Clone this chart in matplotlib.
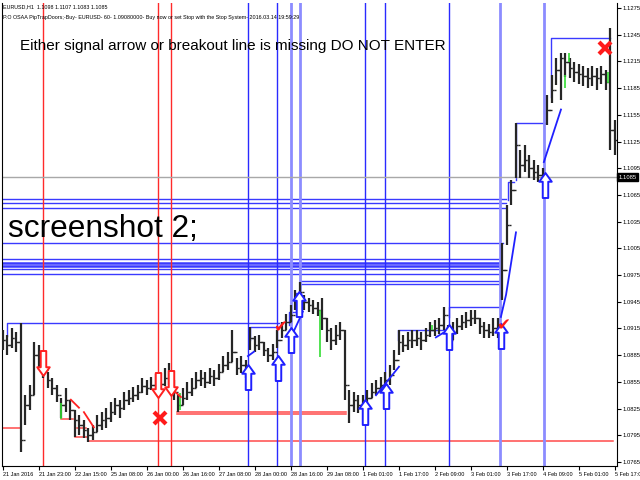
import numpy as np
import matplotlib
matplotlib.use("Agg")
import matplotlib.pyplot as plt
from matplotlib.path import Path

SANS = ['Liberation Sans', 'DejaVu Sans']

# EURUSD H1, one bar per 2 hours (hour offset from the first bar)
hours = np.arange(0, 274, 2)
close = [1.0902, 1.0896, 1.0904, 1.0900, 1.0790, 1.0829, 1.0840, 1.0885, 1.0880, 1.0868,
         1.0857, 1.0848, 1.0840, 1.0829, 1.0835, 1.0823, 1.0812, 1.0807, 1.0801, 1.0795,
         1.0799, 1.0807, 1.0812, 1.0814, 1.0821, 1.0829, 1.0826, 1.0835, 1.0837, 1.0840,
         1.0844, 1.0850, 1.0848, 1.0852, 1.0855, 1.0853, 1.0859, 1.0863, 1.0844, 1.0829,
         1.0837, 1.0844, 1.0848, 1.0857, 1.0859, 1.0855, 1.0862, 1.0859, 1.0866, 1.0874,
         1.0877, 1.0889, 1.0871, 1.0874, 1.0871, 1.0904, 1.0896, 1.0900, 1.0891, 1.0885,
         1.0889, 1.0902, 1.0913, 1.0922, 1.0930, 1.0947, 1.0956, 1.0945, 1.0941, 1.0938,
         1.0936, 1.0927, 1.0913, 1.0902, 1.0908, 1.0913, 1.0852, 1.0829, 1.0835, 1.0829,
         1.0831, 1.0837, 1.0844, 1.0848, 1.0852, 1.0857, 1.0863, 1.0880, 1.0900, 1.0896,
         1.0902, 1.0902, 1.0904, 1.0902, 1.0908, 1.0913, 1.0916, 1.0919, 1.0930, 1.0902,
         1.0911, 1.0918, 1.0922, 1.0925, 1.0927, 1.0927, 1.0918, 1.0913, 1.0911, 1.0916,
         1.0913, 1.0981, 1.1031, 1.1071, 1.1121, 1.1099, 1.1104, 1.1095, 1.1091, 1.1087,
         1.1084, 1.1161, 1.1183, 1.1205, 1.1219, 1.1214, 1.1208, 1.1203, 1.1201, 1.1199,
         1.1196, 1.1199, 1.1196, 1.1201, 1.1192, 1.1138, 1.1127]
high = [1.0913, 1.0908, 1.0916, 1.0911, 1.0921, 1.0840, 1.0852, 1.0900, 1.0896, 1.0880,
        1.0866, 1.0859, 1.0852, 1.0837, 1.0848, 1.0835, 1.0823, 1.0818, 1.0812, 1.0803,
        1.0807, 1.0818, 1.0821, 1.0826, 1.0832, 1.0837, 1.0835, 1.0844, 1.0846, 1.0849,
        1.0852, 1.0859, 1.0857, 1.0860, 1.0864, 1.0862, 1.0871, 1.0876, 1.0857, 1.0840,
        1.0848, 1.0855, 1.0859, 1.0866, 1.0868, 1.0866, 1.0871, 1.0868, 1.0875, 1.0884,
        1.0889, 1.0913, 1.0882, 1.0884, 1.0880, 1.0917, 1.0907, 1.0908, 1.0900, 1.0893,
        1.0898, 1.0913, 1.0922, 1.0931, 1.0941, 1.0958, 1.0967, 1.0953, 1.0949, 1.0947,
        1.0945, 1.0949, 1.0927, 1.0916, 1.0919, 1.0922, 1.0913, 1.0846, 1.0844, 1.0840,
        1.0840, 1.0846, 1.0854, 1.0857, 1.0860, 1.0866, 1.0874, 1.0891, 1.0913, 1.0908,
        1.0911, 1.0913, 1.0913, 1.0911, 1.0916, 1.0922, 1.0925, 1.0927, 1.0939, 1.0919,
        1.0922, 1.0927, 1.0930, 1.0934, 1.0936, 1.0936, 1.0927, 1.0922, 1.0920, 1.0927,
        1.0927, 1.1011, 1.1054, 1.1082, 1.1146, 1.1116, 1.1121, 1.1110, 1.1104, 1.1099,
        1.1095, 1.1177, 1.1200, 1.1219, 1.1225, 1.1225, 1.1219, 1.1214, 1.1212, 1.1210,
        1.1208, 1.1210, 1.1208, 1.1210, 1.1205, 1.1253, 1.1149]
low = [1.0891, 1.0885, 1.0893, 1.0889, 1.0776, 1.0807, 1.0823, 1.0840, 1.0868, 1.0859,
       1.0848, 1.0840, 1.0832, 1.0814, 1.0821, 1.0812, 1.0793, 1.0795, 1.0792, 1.0788,
       1.0790, 1.0799, 1.0801, 1.0803, 1.0810, 1.0818, 1.0814, 1.0823, 1.0829, 1.0832,
       1.0835, 1.0843, 1.0840, 1.0846, 1.0846, 1.0844, 1.0850, 1.0852, 1.0835, 1.0821,
       1.0829, 1.0835, 1.0839, 1.0848, 1.0850, 1.0848, 1.0853, 1.0850, 1.0857, 1.0866,
       1.0868, 1.0877, 1.0863, 1.0865, 1.0859, 1.0891, 1.0889, 1.0891, 1.0884, 1.0877,
       1.0880, 1.0893, 1.0904, 1.0913, 1.0922, 1.0936, 1.0945, 1.0936, 1.0934, 1.0931,
       1.0929, 1.0913, 1.0900, 1.0891, 1.0896, 1.0902, 1.0835, 1.0809, 1.0821, 1.0820,
       1.0823, 1.0828, 1.0837, 1.0840, 1.0844, 1.0846, 1.0852, 1.0868, 1.0885, 1.0889,
       1.0891, 1.0893, 1.0895, 1.0891, 1.0900, 1.0905, 1.0907, 1.0909, 1.0913, 1.0893,
       1.0902, 1.0909, 1.0913, 1.0916, 1.0918, 1.0920, 1.0909, 1.0904, 1.0904, 1.0907,
       1.0904, 1.0947, 1.1009, 1.1054, 1.1084, 1.1084, 1.1091, 1.1084, 1.1082, 1.1080,
       1.1079, 1.1144, 1.1168, 1.1189, 1.1172, 1.1198, 1.1196, 1.1192, 1.1190, 1.1187,
       1.1185, 1.1187, 1.1183, 1.1190, 1.1183, 1.1116, 1.1110]
last_price = 1.1085

x_ticks = list(range(0, 273, 16))
x_labels = ['21 Jan 2016', '21 Jan 23:00', '22 Jan 15:00', '25 Jan 08:00', '26 Jan 00:00',
            '26 Jan 16:00', '27 Jan 08:00', '28 Jan 00:00', '28 Jan 16:00', '29 Jan 08:00',
            '1 Feb 01:00', '1 Feb 17:00', '2 Feb 09:00', '3 Feb 01:00', '3 Feb 17:00',
            '4 Feb 09:00', '5 Feb 01:00', '5 Feb 17:00']
y_ticks = [1.0765, 1.0795, 1.0825, 1.0855, 1.0885, 1.0915, 1.0945, 1.0975, 1.1005,
           1.1035, 1.1065, 1.1095, 1.1125, 1.1155, 1.1185, 1.1215, 1.1245, 1.1275]

# signal bars
red_vlines = [17.8, 68.9, 74.7]
blue_vlines = [108.9, 121.8, 160.9, 169.8, 198.2]
pale_vlines = [128.0, 132.0, 220.9, 240.4]

# breakout levels
band_level = [1.1061, 1.1056, 1.1050, 1.1011, 1.0993, 1.0989, 1.0985, 1.0982, 1.0976, 1.0968, 1.0965]
band_start = [0, 0, 0, 0, 0, 0, 0, 0, 0, 132.4, 132.4]
band_end = [223.6, 223.6, 223.6, 222.2, 221.3, 221.3, 221.3, 221.3, 221.3, 221.3, 221.3]
band_lw = [1, 1, 1, 1, 1, 1.8, 1.8, 1, 1, 1, 1]

step_level = [1.0921, 1.0917, 1.0934, 1.0955, 1.0913, 1.0939, 1.1080, 1.1146, 1.1241]
step_base = [1.0907, 1.0902, 1.0919, 1.0934, 1.0902, 1.0928, 1.1059, 1.1082, 1.1175]
step_start = [1.8, 109.8, 127.1, 130.2, 175.6, 198.2, 224.4, 228.0, 243.6]
step_end = [122.7, 122.7, 130.2, 132.4, 197.8, 221.3, 227.1, 241.3, 269.8]

red_level = [1.0803, 1.0813, 1.0803, 1.0793, 1.0789, 1.0821, 1.0819]
red_start = [0, 25.8, 32.9, 32.0, 37.8, 77.3, 77.3]
red_end = [8.0, 31.1, 36.9, 37.8, 271.1, 152.4, 152.4]

red_trend_x = [[30.2, 33.8], [36.0, 40.4], [74.7, 79.1]]
red_trend_y = [[1.0835, 1.0826], [1.0821, 1.0804], [1.0848, 1.0838]]
blue_trend_x = [[108.9, 111.6], [128.0, 133.3], [165.8, 176.0], [192.4, 195.6],
                [221.3, 223.6, 228.0], [240.4, 248.0]]
blue_trend_y = [[1.0884, 1.0889], [1.0905, 1.0934], [1.0840, 1.0872], [1.0905, 1.0910],
                [1.0928, 1.0953, 1.1023], [1.1102, 1.1161]]

green_x = [25.8, 78.7, 140.9, 190.7, 249.8, 251.6, 268.9]
green_lo = [1.0813, 1.0823, 1.0883, 1.0913, 1.1185, 1.1214, 1.1191]
green_hi = [1.0831, 1.0843, 1.0936, 1.0919, 1.1200, 1.1225, 1.1203]

buy_x = [108.9, 122.2, 128.0, 131.6, 160.9, 170.2, 198.2, 221.3, 240.9]
buy_y = [1.0860, 1.0871, 1.0902, 1.0943, 1.0821, 1.0839, 1.0905, 1.0907, 1.1076]
sell_x = [17.8, 68.9, 74.7]
sell_y = [1.0876, 1.0852, 1.0854]
cross_x = [69.8, 267.6]
cross_y = [1.0814, 1.1230]
tick_x = [123.1, 222.2]
tick_y = [1.0916, 1.0919]

# block arrow markers
up_verts = [(0, 1), (0.5, 0.3), (0.22, 0.3), (0.22, -1), (-0.22, -1), (-0.22, 0.3), (-0.5, 0.3), (0, 1)]
up_arrow = Path(up_verts, closed=True)
down_arrow = Path([(x, -y) for x, y in up_verts], closed=True)

fig = plt.figure(figsize=(6.4, 4.8), dpi=100)
ax = fig.add_axes([2 / 640, 14 / 480, 615 / 640, 463 / 480])

for lvl, s, e, w in zip(band_level, band_start, band_end, band_lw):
    ax.plot([s, e], [lvl, lvl], color='#3a3aff', lw=w, zorder=1)
for lvl, base, s, e in zip(step_level, step_base, step_start, step_end):
    ax.plot([s, s, e], [base, lvl, lvl], color='#3a3aff', lw=1, zorder=1)
for lvl, s, e in zip(red_level, red_start, red_end):
    ax.plot([s, e], [lvl, lvl], color='#ff4a4a', lw=1.1, zorder=1)

for v in red_vlines:
    ax.axvline(v, color='#ff2a2a', lw=1, zorder=1)
for v in blue_vlines:
    ax.axvline(v, color='#2a2aff', lw=1, zorder=1)
for v in pale_vlines:
    ax.axvline(v, color='#8c8cff', lw=2, zorder=1)

ax.axhline(last_price, color='#a8a8a8', lw=1, zorder=1)

# OHLC bars
opens = [close[0]] + close[:-1]
ax.vlines(hours, low, high, color='#262626', lw=1.6, zorder=3)
ax.hlines(opens, hours - 1.1, hours, color='#262626', lw=1, zorder=3)
ax.hlines(close, hours, hours + 1.1, color='#262626', lw=1, zorder=3)
ax.vlines(green_x, green_lo, green_hi, color='#33dd33', lw=1.2, zorder=4)

for xs, ys in zip(red_trend_x, red_trend_y):
    ax.plot(xs, ys, color='#ff2020', lw=1.3, zorder=4)
for xs, ys in zip(blue_trend_x, blue_trend_y):
    ax.plot(xs, ys, color='#2020ff', lw=1.3, zorder=4)

ax.plot(buy_x, buy_y, ls='none', marker=up_arrow, ms=18, mfc='white', mec='#1f1fff', mew=1.4, zorder=5)
ax.plot(sell_x, sell_y, ls='none', marker=down_arrow, ms=18, mfc='white', mec='#ff2020', mew=1.4, zorder=5)
ax.plot(cross_x, cross_y, ls='none', marker='x', ms=8, mec='#ff1a1a', mew=3, zorder=5)
for tx, ty in zip(tick_x, tick_y):
    ax.text(tx, ty, '\u2714', color='#ff1a1a', fontsize=12, ha='center', va='center',
            family='DejaVu Sans', zorder=6)

ax.set_xlim(-0.4, 272.9)
ax.set_ylim(1.07605, 1.12807)
ax.set_xticks(x_ticks)
ax.set_xticklabels(x_labels, family=SANS, fontsize=4, ha='left')
ax.set_yticks(y_ticks)
ax.set_yticklabels([f'{t:.4f}' for t in y_ticks], family=SANS, fontsize=4.2)
ax.yaxis.tick_right()
ax.tick_params(axis='y', length=3, width=0.8, pad=1.2)
ax.tick_params(axis='x', length=3, width=0.8, pad=1.5)
ax.spines['top'].set_visible(False)
for s in ('left', 'right', 'bottom'):
    ax.spines[s].set_color('black')
    ax.spines[s].set_linewidth(0.8)

ax.text(1.003, last_price, '1.1085', transform=ax.get_yaxis_transform(), color='white',
        fontsize=4.2, family=SANS, ha='left', va='center',
        bbox=dict(fc='black', ec='black', boxstyle='square,pad=0.25'))

fig.text(3 / 640, 1 - 7 / 480, 'EURUSD,H1  1.1098 1.1107 1.1083 1.1085', fontsize=3.9,
         family=SANS, va='center')
fig.text(3 / 640, 1 - 18 / 480, 'P.O OSAA PipTrapDoors;-Buy- EURUSD- 60- 1.09080000- Buy now or '
         'set Stop with the Stop System- 2016.03.14 19:59:29', fontsize=3.9, family=SANS, va='center')
fig.text(20 / 640, 1 - 46 / 480, 'Either signal arrow or breakout line is missing DO NOT ENTER',
         fontsize=11, family=SANS, va='center')
fig.text(8 / 640, 1 - 229 / 480, 'screenshot 2;', fontsize=22.8, family=SANS, va='center')

fig.savefig('out.png', dpi=100)
